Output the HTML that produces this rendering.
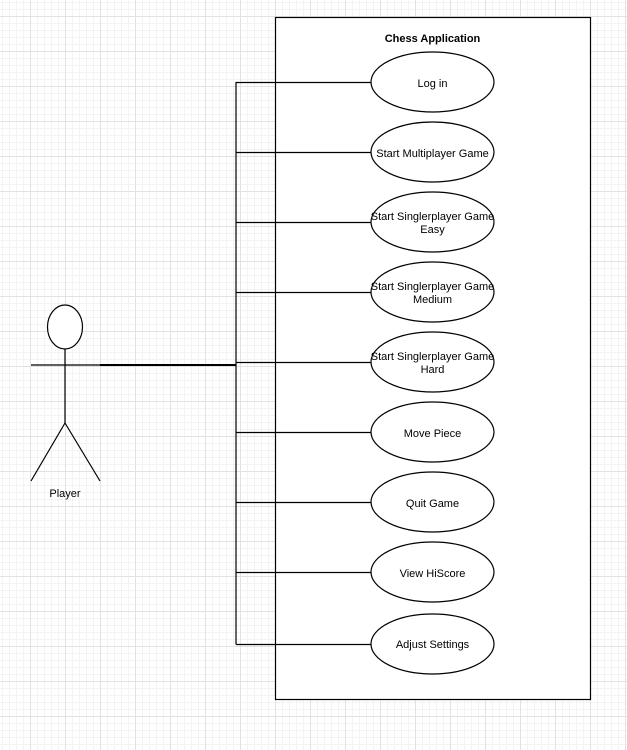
<!DOCTYPE html>
<html><head><style>
html,body{margin:0;padding:0;background:#fff;}
svg{display:block;}
text{font-family:"Liberation Sans",Arial,sans-serif;font-size:11px;fill:#000;}
</style></head><body>
<svg width="627" height="750" xmlns="http://www.w3.org/2000/svg">
<defs>
<pattern id="minor" x="30" y="16" width="7" height="7" patternUnits="userSpaceOnUse">
<path d="M0 0.5H7M0.5 0V7" stroke="#f3f3f3" stroke-width="1" fill="none"/>
</pattern>
<pattern id="major" x="30" y="16" width="35" height="35" patternUnits="userSpaceOnUse">
<path d="M0 0.5H35M0.5 0V35" stroke="#e2e2e2" stroke-width="1" fill="none"/>
</pattern>
</defs>
<rect width="627" height="750" fill="url(#minor)"/>
<rect width="627" height="750" fill="url(#major)"/>

<rect x="275.5" y="17.5" width="315" height="682" fill="#fff" stroke="#000" stroke-width="1.2"/>
<text x="432.5" y="42" text-anchor="middle" font-weight="bold">Chess Application</text>

<g stroke="#000" fill="none" stroke-width="1.2">
<ellipse cx="65" cy="327" rx="17.5" ry="22" fill="#fff"/>
<line x1="65" y1="349" x2="65" y2="423"/>
<line x1="31" y1="365" x2="100" y2="365"/>
<line x1="65" y1="423" x2="31" y2="481"/>
<line x1="65" y1="423" x2="100" y2="481"/>
<line x1="100" y1="365" x2="236" y2="365" stroke-width="2"/>
<line x1="236" y1="82" x2="236" y2="644.5"/>
<line x1="236" y1="82.5" x2="371" y2="82.5"/>
<line x1="236" y1="152.5" x2="371" y2="152.5"/>
<line x1="236" y1="222.5" x2="371" y2="222.5"/>
<line x1="236" y1="292.5" x2="371" y2="292.5"/>
<line x1="236" y1="362.5" x2="371" y2="362.5"/>
<line x1="236" y1="432.5" x2="371" y2="432.5"/>
<line x1="236" y1="502.5" x2="371" y2="502.5"/>
<line x1="236" y1="572.5" x2="371" y2="572.5"/>
<line x1="236" y1="644.5" x2="371" y2="644.5"/>
<g fill="#fff">
<ellipse cx="432.5" cy="82" rx="61.5" ry="30"/>
<ellipse cx="432.5" cy="152" rx="61.5" ry="30"/>
<ellipse cx="432.5" cy="222" rx="61.5" ry="30"/>
<ellipse cx="432.5" cy="292" rx="61.5" ry="30"/>
<ellipse cx="432.5" cy="362" rx="61.5" ry="30"/>
<ellipse cx="432.5" cy="432" rx="61.5" ry="30"/>
<ellipse cx="432.5" cy="502" rx="61.5" ry="30"/>
<ellipse cx="432.5" cy="572" rx="61.5" ry="30"/>
<ellipse cx="432.5" cy="644" rx="61.5" ry="30"/>
</g>
</g>
<g text-anchor="middle">
<text x="65" y="497">Player</text>
<text x="432.5" y="87">Log in</text>
<text x="432.5" y="157">Start Multiplayer Game</text>
<text x="432.5" y="220">Start Singlerplayer Game</text>
<text x="432.5" y="233">Easy</text>
<text x="432.5" y="290">Start Singlerplayer Game</text>
<text x="432.5" y="303">Medium</text>
<text x="432.5" y="360">Start Singlerplayer Game</text>
<text x="432.5" y="373">Hard</text>
<text x="432.5" y="437">Move Piece</text>
<text x="432.5" y="507">Quit Game</text>
<text x="432.5" y="577">View HiScore</text>
<text x="432.5" y="648">Adjust Settings</text>
</g>
</svg>
</body></html>
